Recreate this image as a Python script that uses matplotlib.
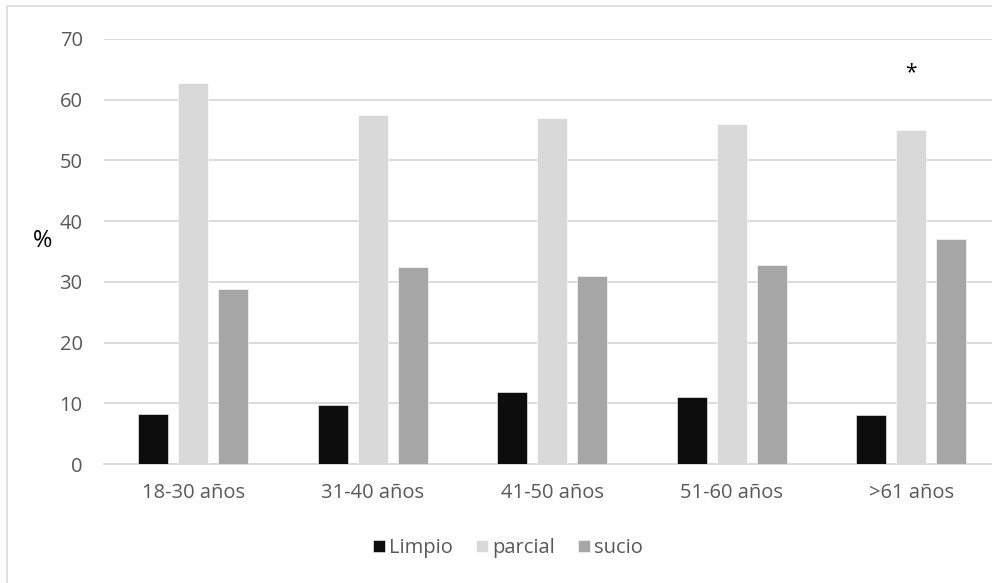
import matplotlib
matplotlib.use("Agg")
import matplotlib.pyplot as plt
import numpy as np
from matplotlib.patches import Rectangle

categories = ["18-30 años", "31-40 años", "41-50 años", "51-60 años", ">61 años"]
limpio = [8.2, 9.7, 11.8, 11.0, 8.0]
parcial = [62.7, 57.5, 57.0, 56.0, 55.0]
sucio = [28.8, 32.5, 30.9, 32.7, 37.0]
series_names = ["Limpio", "parcial", "sucio"]
colors = ["#0d0d0d", "#d9d9d9", "#a6a6a6"]
yticks = [0, 10, 20, 30, 40, 50, 60, 70]
star_category = 4
star_value = 64.5

plt.rcParams['font.family'] = ['Open Sans', 'DejaVu Sans']

W, H = 992, 583
fig = plt.figure(figsize=(W / 100, H / 100), dpi=100)
fig.patches.append(Rectangle((7 / W, -0.2), 1.2, (H - 6) / H + 0.2, transform=fig.transFigure,
                             fill=False, edgecolor="#d9d9d9", linewidth=1.2))

left, right = 103.5, 1001
bottom, top = 464, 39
ax = fig.add_axes([left / W, (H - bottom) / H, (right - left) / W, (bottom - top) / H])

x = np.arange(len(categories))
bw = 0.167
off = 0.223
for i, (vals, name, c) in enumerate(zip([limpio, parcial, sucio], series_names, colors)):
    ax.bar(x + (i - 1) * off, vals, width=bw, color=c, label=name, zorder=3,
           edgecolor="white", linewidth=0.4)

ax.set_xlim(-0.5, len(categories) - 0.5)
ax.set_ylim(0, 70)
ax.set_yticks(yticks)
ax.yaxis.grid(True, color="#d9d9d9", linewidth=1.3, zorder=0)
ax.set_axisbelow(True)
for s in ["top", "right", "left"]:
    ax.spines[s].set_visible(False)
ax.spines["bottom"].set_color("#d9d9d9")
ax.spines["bottom"].set_linewidth(1.3)
ax.tick_params(axis="both", length=0, colors="#595959")
ax.tick_params(axis="y", pad=15, labelsize=14.5)
ax.tick_params(axis="x", pad=14, labelsize=14.5)
ax.set_xticks(x)
ax.set_xticklabels(categories)

fig.text(43 / W, (H - 241) / H, "%", fontsize=17, color="#000000", ha="center", va="center")

ax.text(star_category, star_value, "*", ha="center", va="center", fontsize=15, color="#000000")

leg = fig.legend(loc="center", bbox_to_anchor=(508 / W, (H - 548) / H), ncol=3, frameon=False,
                 fontsize=14.5, handlelength=0.6, handleheight=0.6, handletextpad=0.2,
                 columnspacing=1.15, labelcolor="#595959")

fig.savefig("out.png", dpi=100)
